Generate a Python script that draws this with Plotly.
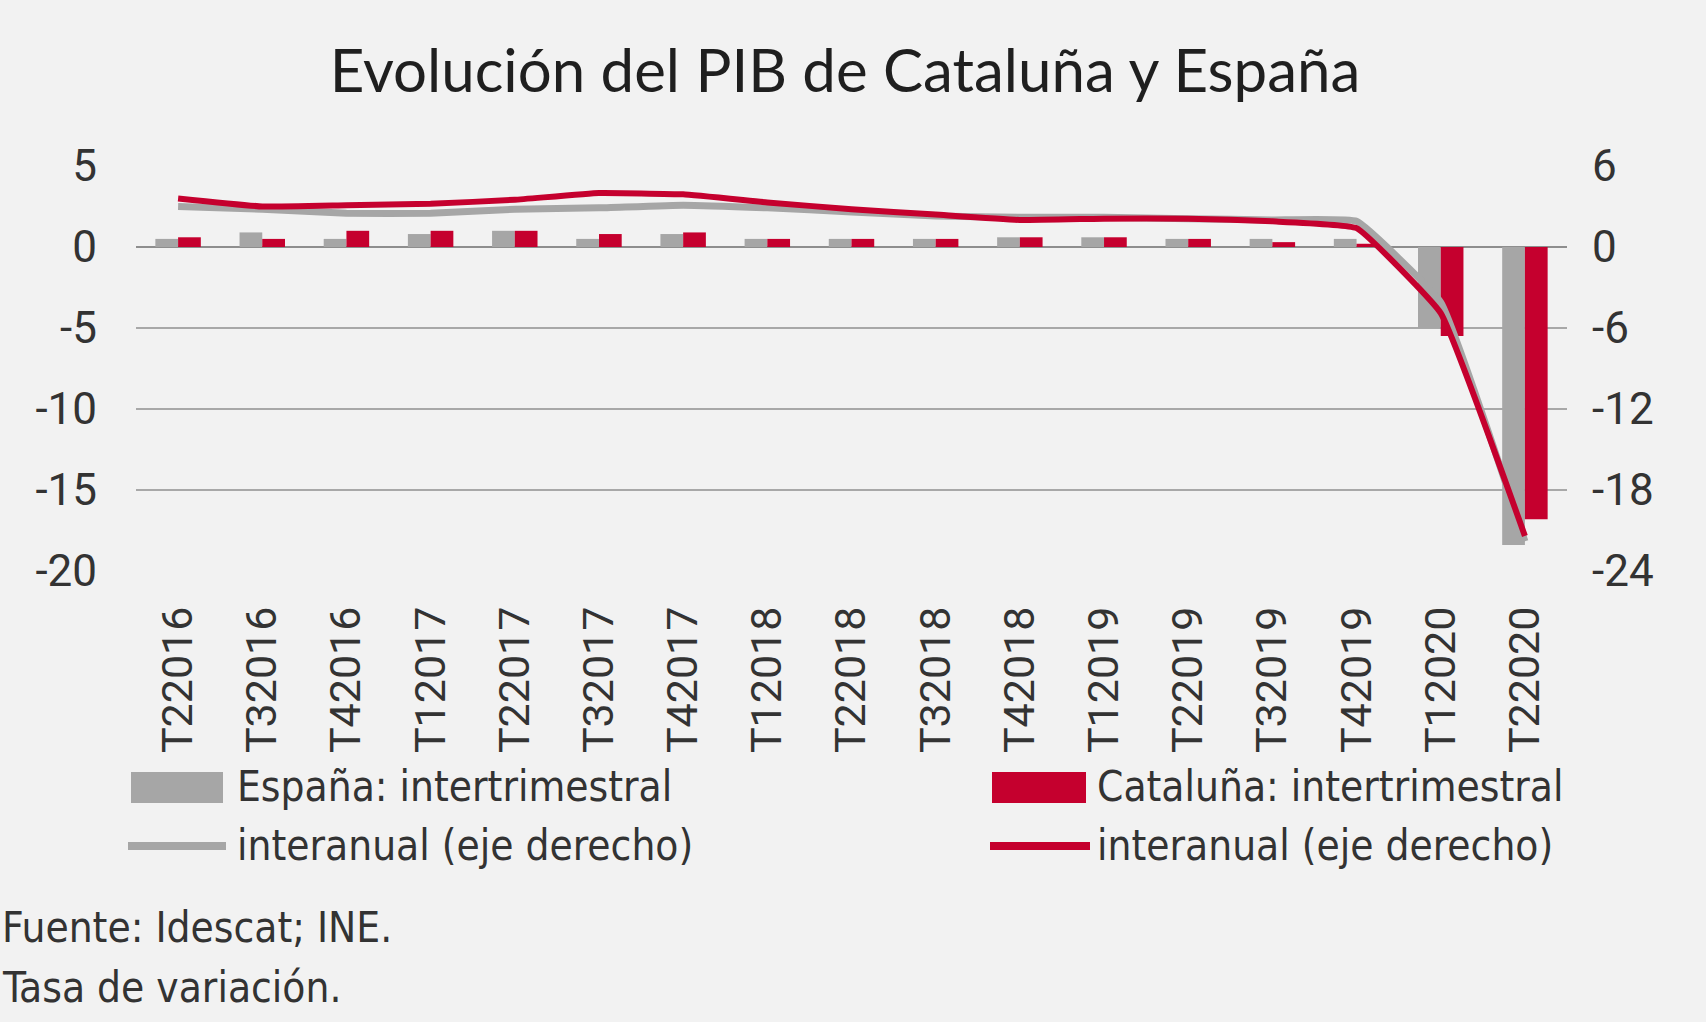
import plotly.graph_objects as go

# ---------------- data ----------------
categories = ["T22016", "T32016", "T42016", "T12017", "T22017", "T32017", "T42017",
              "T12018", "T22018", "T32018", "T42018", "T12019", "T22019", "T32019",
              "T42019", "T12020", "T22020"]
espana_intertrimestral = [0.5, 0.9, 0.5, 0.8, 1.0, 0.5, 0.8, 0.5, 0.5, 0.5, 0.6, 0.6,
                          0.5, 0.5, 0.5, -5.0, -18.4]
cataluna_intertrimestral = [0.6, 0.5, 1.0, 1.0, 1.0, 0.8, 0.9, 0.5, 0.5, 0.5, 0.6, 0.6,
                            0.5, 0.3, 0.2, -5.5, -16.8]
espana_interanual = [3.0, 2.8, 2.5, 2.5, 2.8, 2.9, 3.1, 2.9, 2.6, 2.3, 2.2, 2.2,
                     2.1, 2.0, 1.9, -4.1, -21.8]
cataluna_interanual = [3.6, 3.0, 3.1, 3.2, 3.5, 4.0, 3.9, 3.3, 2.8, 2.4, 2.0, 2.1,
                       2.1, 1.9, 1.4, -4.9, -21.4]
left_ticks = [5, 0, -5, -10, -15, -20]
right_ticks = [6, 0, -6, -12, -18, -24]

title_text = "Evolución del PIB de Cataluña y España"
legend_labels = ["España: intertrimestral", "Cataluña: intertrimestral",
                 "interanual (eje derecho)", "interanual (eje derecho)"]
footnotes = ["Fuente: Idescat; INE.", "Tasa de variación."]

# ---------------- style ----------------
GRAY = "#A6A6A6"
RED = "#C5002E"
BG = "#F2F2F2"
TXT = "#333333"
NARROW = "Liberation Sans Narrow, Arial Narrow, DejaVu Sans Condensed, sans-serif"

W, H = 1706, 1022
ML, MR, MT, MB = 136, 139, 166, 451


def fx(px):
    return (px - ML) / (W - ML - MR)


def fy(py):
    return (H - MB - py) / (H - MT - MB)


fig = go.Figure()
fig.add_trace(go.Bar(x=categories, y=espana_intertrimestral, marker_color=GRAY,
                     marker_line_width=0, name=legend_labels[0]))
fig.add_trace(go.Bar(x=categories, y=cataluna_intertrimestral, marker_color=RED,
                     marker_line_width=0, name=legend_labels[1]))
fig.add_trace(go.Scatter(x=categories, y=espana_interanual, mode="lines", yaxis="y2",
                         line=dict(color=GRAY, width=7, shape="spline", smoothing=0.3),
                         name=legend_labels[2]))
fig.add_trace(go.Scatter(x=categories, y=cataluna_interanual, mode="lines", yaxis="y2",
                         line=dict(color=RED, width=6, shape="spline", smoothing=0.3),
                         name=legend_labels[3]))

shapes = []
annotations = []
# legend swatches
shapes.append(dict(type="rect", xref="paper", yref="paper", x0=fx(131), x1=fx(223),
                   y0=fy(803), y1=fy(772), fillcolor=GRAY, line_width=0))
shapes.append(dict(type="rect", xref="paper", yref="paper", x0=fx(992), x1=fx(1086),
                   y0=fy(803), y1=fy(772), fillcolor=RED, line_width=0))
shapes.append(dict(type="line", xref="paper", yref="paper", x0=fx(128), x1=fx(226),
                   y0=fy(846), y1=fy(846), line=dict(color=GRAY, width=8)))
shapes.append(dict(type="line", xref="paper", yref="paper", x0=fx(990), x1=fx(1090),
                   y0=fy(846), y1=fy(846), line=dict(color=RED, width=8)))

for (px, py), txt in zip([(235, 786), (1095, 786), (235, 845), (1095, 845)], legend_labels):
    annotations.append(dict(xref="paper", yref="paper", x=fx(px), y=fy(py), text=txt,
                            showarrow=False, xanchor="left", yanchor="middle",
                            font=dict(family=NARROW, size=42, color=TXT)))
for py, txt in zip([927, 987], footnotes):
    annotations.append(dict(xref="paper", yref="paper", x=fx(0), y=fy(py), text=txt,
                            showarrow=False, xanchor="left", yanchor="middle",
                            font=dict(family=NARROW, size=42, color=TXT)))

fig.update_layout(
    width=W, height=H,
    margin=dict(l=ML, r=MR, t=MT, b=MB),
    paper_bgcolor=BG, plot_bgcolor=BG,
    showlegend=False,
    barmode="group", bargap=0.46, bargroupgap=0,
    title=dict(text=title_text, x=845 / W, xref="container", xanchor="center",
               y=1 - 71 / H, yref="container", yanchor="middle",
               font=dict(family="Lato, Roboto, sans-serif", size=60, color="#1F1F1F")),
    xaxis=dict(type="category", tickangle=-90, showgrid=False, showline=False,
               ticks="", ticklabelstandoff=26,
               tickfont=dict(family="Roboto, sans-serif", size=43, color=TXT)),
    yaxis=dict(range=[-20, 5], tickvals=left_ticks,
               ticktext=[str(v) for v in left_ticks],
               showgrid=True, gridcolor="#A8A8A8",
               gridwidth=2, zeroline=True, zerolinecolor="#8E8E8E", zerolinewidth=2,
               ticks="", ticklabelstandoff=38, showline=False,
               tickfont=dict(family="Roboto, sans-serif", size=44, color=TXT)),
    yaxis2=dict(range=[-24, 6], tickvals=right_ticks,
                ticktext=[str(v) for v in right_ticks],
                overlaying="y", side="right",
                showgrid=False, zeroline=False, ticks="", ticklabelstandoff=24,
                showline=False,
                tickfont=dict(family="Roboto, sans-serif", size=44, color=TXT)),
    shapes=shapes,
    annotations=annotations,
)

fig.write_html("out.html", config={"displayModeBar": False},
               post_script="document.body.style.margin='0';document.body.style.overflow='hidden';")
